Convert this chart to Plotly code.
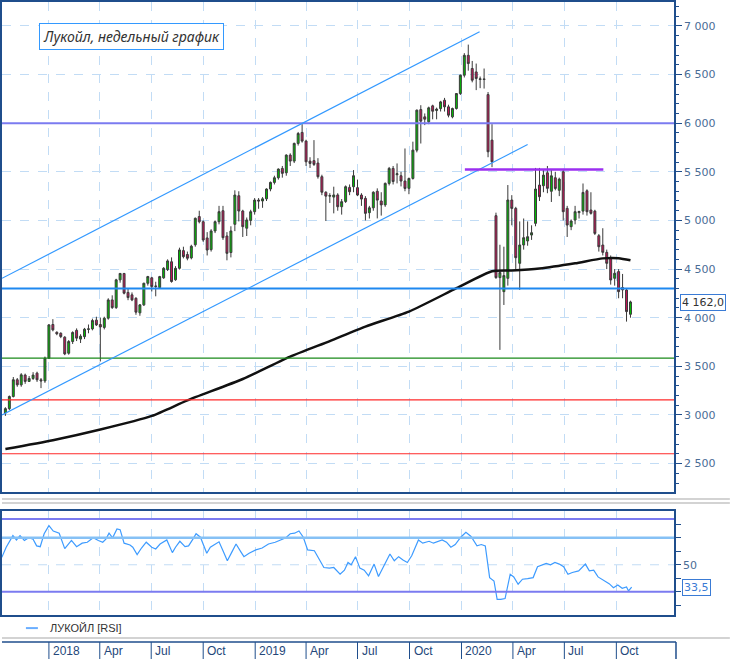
import datetime as dt
import plotly.graph_objects as go

# weekly candles, first week starts 2017-10-16
start = dt.date(2017, 10, 16)

opens = [3020, 3065, 3190, 3362, 3310, 3410, 3345, 3375, 3430, 3362,
         3350, 3584, 3930, 3850, 3840, 3800, 3635, 3755, 3870, 3780,
         3805, 3880, 3885, 3975, 3930, 3900, 3995, 4183, 4104, 4389,
         4455, 4260, 4235, 4200, 4050, 4132, 4354, 4410, 4320, 4310,
         4410, 4495, 4575, 4390, 4508, 4690, 4650, 4615, 4750, 5040,
         4987, 4820, 4700, 4892, 4987, 5100, 4840, 4670, 4960, 5254,
         5097, 4920, 5000, 5090, 5210, 5200, 5222, 5323, 5391, 5439,
         5535, 5490, 5672, 5610, 5792, 5905, 5816, 5610, 5615, 5590,
         5450, 5290, 5250, 5240, 5262, 5141, 5195, 5340, 5347, 5337,
         5261, 5227, 5080, 5130, 5300, 5200, 5160, 5381, 5535, 5470,
         5460, 5405, 5330, 5432, 5723, 6140, 6065, 6014, 6178, 6130,
         6150, 6236, 6168, 6065, 6151, 6305, 6493, 6698, 6562, 6527,
         6450, 6455, 6294, 5826, 5049, 4412, 4268, 4405, 5210, 5124,
         4559, 4748, 4789, 4850, 4970, 5364, 5357, 5490, 5300, 5439,
         5310, 5500, 5124, 4936, 5004, 5080, 5096, 5305, 5107, 5096,
         4843, 4747, 4672, 4610, 4405, 4474, 4310, 4285, 4035]
highs = [3080, 3200, 3390, 3380, 3430, 3425, 3400, 3440, 3445, 3380,
         3600, 3935, 3985, 3860, 3850, 3810, 3770, 3860, 3890, 3830,
         3895, 3930, 3990, 4010, 4000, 4010, 4200, 4230, 4400, 4460,
         4460, 4300, 4260, 4210, 4140, 4360, 4430, 4420, 4370, 4430,
         4520, 4600, 4620, 4530, 4720, 4730, 4680, 4750, 5030, 5100,
         5000, 4880, 4910, 5000, 5150, 5150, 4880, 4940, 5310, 5300,
         5110, 5030, 5110, 5230, 5230, 5240, 5330, 5400, 5460, 5535,
         5560, 5680, 5690, 5800, 5910, 5990, 5830, 5650, 5826, 5640,
         5470, 5300, 5280, 5347, 5280, 5220, 5360, 5370, 5518, 5420,
         5280, 5250, 5150, 5300, 5330, 5290, 5390, 5550, 5560, 5586,
         5500, 5740, 5440, 5810, 6140, 6185, 6100, 6170, 6190, 6160,
         6230, 6260, 6190, 6160, 6310, 6500, 6720, 6808, 6640, 6613,
         6480, 6562, 6320, 5990, 5080, 4750, 4730, 5364, 5260, 5140,
         4990, 5020, 4990, 4950, 5540, 5540, 5520, 5560, 5520, 5500,
         5440, 5530, 5150, 5010, 5150, 5100, 5380, 5320, 5290, 5110,
         4860, 4920, 4700, 4640, 4500, 4500, 4450, 4300, 4175]
lows = [2990, 3050, 3180, 3290, 3290, 3320, 3340, 3360, 3340, 3276,
        3330, 3575, 3860, 3820, 3790, 3615, 3620, 3730, 3760, 3740,
        3780, 3840, 3870, 3915, 3550, 3880, 3980, 4090, 4090, 4360,
        4240, 4180, 4170, 4030, 4020, 4120, 4330, 4270, 4220, 4300,
        4400, 4480, 4360, 4380, 4495, 4610, 4590, 4600, 4730, 4970,
        4780, 4640, 4680, 4870, 4960, 4800, 4590, 4620, 4890, 4990,
        4830, 4840, 4950, 5060, 5120, 5130, 5200, 5300, 5370, 5420,
        5440, 5460, 5560, 5590, 5770, 5800, 5560, 5540, 5560, 5430,
        5260, 4994, 5180, 5073, 5100, 5060, 5180, 5260, 5290, 5250,
        5150, 5000, 5020, 5100, 5021, 5050, 5140, 5360, 5370, 5381,
        5350, 5300, 5270, 5420, 5700, 5791, 5980, 5990, 6040, 6040,
        6120, 6120, 6060, 6050, 6140, 6290, 6470, 6540, 6420, 6340,
        6360, 6356, 5650, 5548, 4400, 3669, 4131, 4330, 4950, 4500,
        4286, 4700, 4740, 4800, 4940, 5200, 5290, 5280, 5190, 5310,
        5250, 5000, 4830, 4900, 4960, 5020, 5060, 5050, 5060, 4850,
        4680, 4640, 4500, 4340, 4330, 4200, 4200, 3960, 4000]
closes = [3065, 3190, 3362, 3310, 3413, 3345, 3375, 3410, 3362, 3350,
          3584, 3926, 3875, 3835, 3806, 3628, 3755, 3848, 3790, 3810,
          3882, 3885, 3971, 3926, 3905, 3995, 4183, 4104, 4389, 4455,
          4252, 4207, 4183, 4057, 4132, 4354, 4423, 4320, 4325, 4423,
          4508, 4584, 4372, 4508, 4697, 4628, 4611, 4735, 5022, 4987,
          4799, 4696, 4892, 4987, 5090, 4823, 4662, 4892, 5261, 5097,
          4936, 5005, 5090, 5210, 5200, 5222, 5323, 5391, 5439, 5528,
          5484, 5672, 5610, 5792, 5894, 5816, 5603, 5586, 5576, 5450,
          5290, 5250, 5255, 5262, 5141, 5193, 5347, 5295, 5460, 5261,
          5220, 5073, 5130, 5290, 5209, 5160, 5381, 5535, 5400, 5480,
          5405, 5329, 5432, 5723, 6134, 6021, 6041, 6158, 6123, 6145,
          6219, 6168, 6082, 6151, 6305, 6493, 6698, 6613, 6442, 6460,
          6455, 6450, 5706, 5603, 4412, 4465, 4433, 5210, 5124, 4617,
          4748, 4823, 4833, 4874, 5323, 5244, 5466, 5330, 5459, 5329,
          5425, 5090, 4953, 4994, 5090, 5092, 5288, 5090, 5073, 4867,
          4730, 4672, 4559, 4388, 4457, 4268, 4286, 4063, 4162]

# long moving average (week offset, value)
ma_week = [0, 12, 24, 37, 46, 60, 72, 82, 91, 102, 114, 123, 128, 135, 144, 151, 155, 158]
ma_value = [2650, 2740, 2850, 2990, 3150, 3370, 3600, 3760, 3909, 4063, 4303, 4478,
            4485, 4505, 4559, 4610, 4612, 4590]

# RSI (week offset, value)
rsi_week = [-0.9, 0.2, 1.9, 2.8, 3.7, 4.8, 5.9, 7.0, 7.9, 8.8, 9.8, 11.0, 12.1, 13.6,
            15.0, 16.7, 18.0, 19.4, 20.7, 22.2, 23.5, 24.6, 25.4, 26.2, 27.1, 28.2,
            29.0, 30.0, 31.5, 32.2, 33.3, 34.4, 35.6, 37.0, 38.0, 39.1, 40.8, 42.2,
            43.0, 44.1, 45.4, 46.3, 47.4, 48.2, 49.3, 50.9, 51.8, 53.1, 54.0, 55.0,
            56.1, 57.2, 58.3, 59.6, 60.3, 61.6, 63.3, 64.9, 66.5, 68.2, 69.8, 70.9,
            72.0, 73.1, 74.2, 75.3, 76.4, 78.1, 80.5, 81.9, 83.0, 84.6, 85.7, 86.6,
            87.4, 88.5, 89.6, 90.7, 91.8, 93.2, 94.3, 95.6, 97.2, 98.3, 99.4, 100.5,
            101.6, 102.7, 104.4, 105.5, 107.1, 108.2, 109.3, 110.4, 111.5, 112.6,
            113.7, 115.1, 116.4, 117.7, 119.2, 120.3, 121.3, 122.4, 123.5, 124.3,
            125.2, 126.3, 127.6, 128.5, 129.6, 130.7, 132.0, 133.4, 134.5, 135.6,
            136.7, 137.8, 138.9, 140.0, 141.1, 142.2, 143.3, 144.9, 146.6, 147.6,
            148.7, 149.8, 151.5, 152.6, 153.7, 154.8, 155.9, 157.0, 157.5, 158.3]
rsi_value = [55.5, 63, 71.6, 68.4, 71.6, 68, 70, 69, 64, 63.4, 73, 79, 75, 73.4,
             62, 68, 63.4, 66, 66.7, 70, 68, 66.7, 69, 73.4, 70, 76.6,
             76, 66, 64.7, 63, 57.5, 62.4, 66.7, 63, 61.7, 65.4, 68.4, 59,
             63, 67.4, 63.4, 64, 69, 73, 70.4, 58.5, 63, 65.4, 67, 60.4,
             53, 59.2, 65.4, 59.2, 56, 58.5, 61, 62.4, 65.4, 66.7, 68.4, 70,
             73, 73.4, 75, 70.4, 61, 60.4, 48, 47.5, 48, 43, 46, 51.7,
             50, 56, 47.5, 46, 41.8, 50.5, 41.3, 49.3, 58, 53, 56, 53.5,
             51.7, 56.7, 68.4, 66, 67.4, 66, 67.4, 68.4, 66.7, 63,
             65, 70.4, 74, 71, 64, 65, 64, 40.5, 38, 24.4,
             24.4, 25, 43, 41, 35.6, 39.3, 39.8, 40.5, 48.5, 50,
             51, 50, 51.7, 50.5, 48.5, 43, 44.3, 45.5, 50.5, 45.5,
             46, 41, 38, 36, 33, 35, 32.6, 33.6, 30.6, 33.5]

# horizontal levels
level_6000 = 6000
level_blue = 4300
level_green = 3585
level_red = [3156, 2601]
resistance = ("2020-01-07", "2020-09-08", 5525)
channel_upper = (("2017-10-10", 4405), ("2020-02-02", 6940))
channel_lower = (("2017-10-10", 3000), ("2020-04-27", 5780))
rsi_levels = [84, 70, 30]

tick_dates = ["2018-01-01", "2018-04-01", "2018-07-01", "2018-10-01",
              "2019-01-01", "2019-04-01", "2019-07-01", "2019-10-01",
              "2020-01-01", "2020-04-01", "2020-07-01", "2020-10-01"]
tick_labels = ["2018", "Apr", "Jul", "Oct", "2019", "Apr", "Jul", "Oct",
               "2020", "Apr", "Jul", "Oct"]

title_text = "Лукойл, недельный график"
last_price_text = "4 162,0"
last_rsi_text = "33,5"
legend_text = "ЛУКОЙЛ [RSI]"

W, H = 730, 659
PLOT_R = 674


def week_date(w):
    return dt.datetime.combine(start, dt.time()) + dt.timedelta(days=7 * w)


dates = [week_date(i) for i in range(len(closes))]
x_range = ["2017-10-10", "2021-01-11"]

NAVY = "#1f4e8c"
AXIS_TXT = "#4a6d96"
GRID = "#c2dcf5"


def px_x(px):
    return px / PLOT_R


def px_y(py):
    return 1 - py / H


fig = go.Figure()

fig.add_trace(go.Candlestick(
    x=dates, open=opens, high=highs, low=lows, close=closes,
    increasing=dict(fillcolor="#00c000", line=dict(color="#3a3a3a", width=1)),
    decreasing=dict(fillcolor="#c8145a", line=dict(color="#3a3a3a", width=1)),
    whiskerwidth=0, showlegend=False, hoverinfo="skip",
    xaxis="x", yaxis="y",
))

fig.add_trace(go.Scatter(
    x=[week_date(w) for w in ma_week], y=ma_value, mode="lines",
    line=dict(color="#111111", width=2.5, shape="spline", smoothing=0.6),
    showlegend=False, hoverinfo="skip", xaxis="x", yaxis="y",
))

fig.add_trace(go.Scatter(
    x=[week_date(w) for w in rsi_week], y=rsi_value, mode="lines",
    line=dict(color="#3d9bff", width=1.2),
    showlegend=False, hoverinfo="skip", xaxis="x2", yaxis="y2",
))

shapes = []
# main panel levels
for val, col, wid in [(level_6000, "#7b7bf0", 2), (level_blue, "#1e88f0", 2),
                      (level_green, "#1a8a1a", 1.2), (level_red[0], "#ff2a2a", 1.2),
                      (level_red[1], "#ff2a2a", 1.2)]:
    shapes.append(dict(type="line", xref="x domain", yref="y", x0=0, x1=1, y0=val, y1=val,
                       line=dict(color=col, width=wid), layer="above"))
for (xa, ya), (xb, yb) in [channel_upper, channel_lower]:
    shapes.append(dict(type="line", xref="x", yref="y", x0=xa, y0=ya, x1=xb, y1=yb,
                       line=dict(color="#3399ff", width=1.2), layer="above"))
shapes.append(dict(type="line", xref="x", yref="y", x0=resistance[0], x1=resistance[1],
                   y0=resistance[2], y1=resistance[2],
                   line=dict(color="#9b2ff0", width=2.5), layer="above"))

# rsi levels
for val, col, wid in zip(rsi_levels, ["#7b7bf0", "#86c1f5", "#7b7bf0"], [2, 2.5, 2]):
    shapes.append(dict(type="line", xref="x2 domain", yref="y2", x0=0, x1=1, y0=val, y1=val,
                       line=dict(color=col, width=wid), layer="above"))
shapes.append(dict(type="line", xref="x2 domain", yref="y2", x0=0, x1=1, y0=50, y1=50,
                   line=dict(color=GRID, width=1, dash="dash"), layer="below"))

# grey separators
for py in [498.5, 502.5]:
    shapes.append(dict(type="line", xref="paper", yref="paper", x0=0, x1=W / PLOT_R,
                       y0=px_y(py), y1=px_y(py), line=dict(color="#c4c4c4", width=1.5)))
shapes.append(dict(type="line", xref="paper", yref="paper", x0=0, x1=W / PLOT_R,
                   y0=px_y(638), y1=px_y(638), line=dict(color="#c4c4c4", width=1.5)))

# bottom date strip
shapes.append(dict(type="line", xref="paper", yref="paper", x0=0, x1=px_x(676),
                   y0=px_y(642), y1=px_y(642), line=dict(color=NAVY, width=1.5)))
shapes.append(dict(type="line", xref="paper", yref="paper", x0=px_x(676), x1=px_x(676),
                   y0=px_y(642), y1=0, line=dict(color=NAVY, width=1.5)))
for d in tick_dates:
    shapes.append(dict(type="line", xref="x", yref="paper", x0=d, x1=d,
                       y0=px_y(642), y1=0, line=dict(color=NAVY, width=1)))

# legend sample line
shapes.append(dict(type="line", xref="paper", yref="paper", x0=px_x(24), x1=px_x(36),
                   y0=px_y(628), y1=px_y(628), line=dict(color="#6aaeff", width=2)))

annotations = []
annotations.append(dict(
    xref="paper", yref="paper", x=px_x(37), y=px_y(21), xanchor="left", yanchor="top",
    text="<i>" + title_text + "</i>", showarrow=False,
    font=dict(family="Noto Sans", size=14, color="#333333"),
    bgcolor="white", bordercolor="#3399ff", borderwidth=1, borderpad=3,
))
annotations.append(dict(
    xref="paper", yref="paper", x=px_x(680), y=px_y(301), xanchor="left", yanchor="middle",
    text=last_price_text, showarrow=False,
    font=dict(family="DejaVu Sans", size=11, color="#333333"),
    bgcolor="white", bordercolor="#3a7bd5", borderwidth=1, borderpad=1,
))
annotations.append(dict(
    xref="paper", yref="paper", x=px_x(682), y=px_y(587), xanchor="left", yanchor="middle",
    text=last_rsi_text, showarrow=False,
    font=dict(family="DejaVu Sans", size=11, color="#3a7bd5"),
    bgcolor="white", bordercolor="#3a7bd5", borderwidth=1, borderpad=1,
))
annotations.append(dict(
    xref="paper", yref="paper", x=px_x(46), y=px_y(628), xanchor="left", yanchor="middle",
    text=legend_text, showarrow=False,
    font=dict(family="Liberation Sans Narrow, Liberation Sans", size=11, color="#333333"),
))
for d, lab in zip(tick_dates, tick_labels):
    annotations.append(dict(
        xref="x", yref="paper", x=d, y=px_y(650.5), xanchor="left", yanchor="middle",
        xshift=2, text=lab, showarrow=False,
        font=dict(family="Liberation Sans Narrow, Liberation Sans", size=12, color="#24477a"),
    ))

xaxis_common = dict(
    range=x_range, type="date", tickmode="array", tickvals=tick_dates,
    showticklabels=False, ticks="", showgrid=True, gridcolor=GRID, griddash="dash",
    gridwidth=1, showline=True, mirror=True, linecolor=NAVY, linewidth=1.5,
    zeroline=False, rangeslider=dict(visible=False),
)

fig.update_layout(
    width=W, height=H,
    margin=dict(l=0, r=W - PLOT_R, t=0, b=0),
    paper_bgcolor="white", plot_bgcolor="white",
    separators=", ",
    showlegend=False,
    xaxis=dict(domain=[0, 1], anchor="y", **xaxis_common),
    xaxis2=dict(domain=[0, 1], anchor="y2", matches="x", **xaxis_common),
    yaxis=dict(
        domain=[px_y(491), 1], range=[2213, 7246], side="right",
        tickmode="linear", tick0=0, dtick=500, tickformat=",d",
        ticks="outside", ticklen=6, tickcolor=NAVY, tickwidth=1.2,
        minor=dict(dtick=100, tick0=0, ticks="outside", ticklen=3, tickcolor=NAVY, showgrid=False),
        tickfont=dict(family="DejaVu Sans", size=11, color=AXIS_TXT),
        showgrid=True, gridcolor=GRID, griddash="dash",
        showline=True, mirror=True, linecolor=NAVY, linewidth=1.5, zeroline=False,
    ),
    yaxis2=dict(
        domain=[px_y(615), px_y(511)], range=[12.7, 89.5], side="right",
        tickmode="array", tickvals=[20, 30, 40, 50, 60, 70, 80],
        ticktext=["", "", "", "50", "", "", ""],
        ticks="outside", ticklen=5, tickcolor=NAVY, tickwidth=1.2,
        tickfont=dict(family="DejaVu Sans", size=11, color=AXIS_TXT),
        showgrid=False, showline=True, mirror=True, linecolor=NAVY, linewidth=1.5,
        zeroline=False,
    ),
    shapes=shapes,
    annotations=annotations,
)

# the page's default 8px body margin would shift the whole chart
fig.write_html("out.html", config={"displayModeBar": False},
               post_script="document.body.style.margin='0px';")
